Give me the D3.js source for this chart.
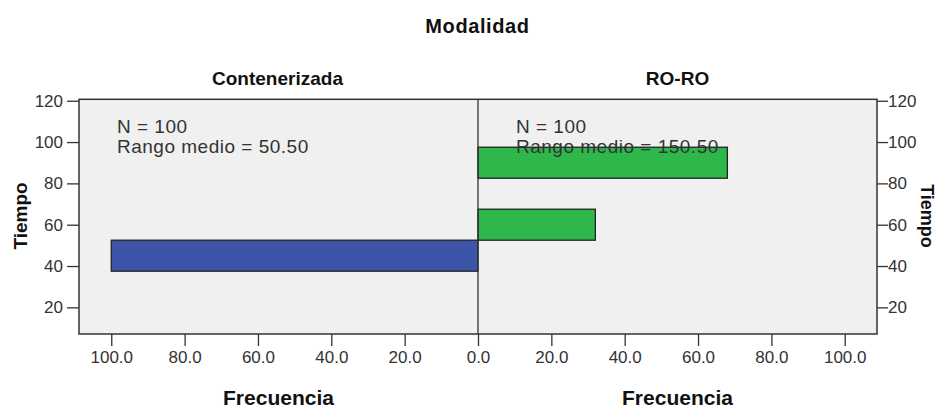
<!DOCTYPE html>
<html><head><meta charset="utf-8">
<script src="https://cdn.jsdelivr.net/npm/d3@7"></script>
<style>body{margin:0;background:#fff}svg text{font-family:"Liberation Sans",Arial,sans-serif}</style>
</head><body><svg id="c" width="938" height="408"></svg>
<script>
// Data
const binCenters = [45, 60, 75, 90];
const binWidth = 15;
const groups = ["Contenerizada", "RO-RO"];
const freqContenerizada = [100, 0, 0, 0];
const freqRORO = [0, 32, 0, 68];
const annotN = ["N = 100", "N = 100"];
const annotRango = ["Rango medio = 50.50", "Rango medio = 150.50"];
const yTicks = [20, 40, 60, 80, 100, 120];
const xTicks = [0, 20, 40, 60, 80, 100];

const svg = d3.select("#c");
const L = 79, R = 877, T = 99.3, B = 334, C = 478;
const y = d3.scaleLinear().domain([7.1, 120.7]).range([B, T]);
const xL = d3.scaleLinear().domain([0, 108.8]).range([C, L]);
const xR = d3.scaleLinear().domain([0, 108.8]).range([C, R]);

svg.append("rect").attr("x", L).attr("y", T).attr("width", R - L).attr("height", B - T)
  .attr("fill", "#f0f0f0");

// bars
const barsL = binCenters.map((c, i) => ({c, v: freqContenerizada[i]})).filter(d => d.v > 0);
const barsR = binCenters.map((c, i) => ({c, v: freqRORO[i]})).filter(d => d.v > 0);
svg.selectAll(".bl").data(barsL).join("rect")
  .attr("x", d => xL(d.v)).attr("width", d => xL(0) - xL(d.v))
  .attr("y", d => y(d.c + binWidth / 2)).attr("height", d => y(d.c - binWidth / 2) - y(d.c + binWidth / 2))
  .attr("fill", "#3c55a8").attr("stroke", "#222").attr("stroke-width", 1.3);
svg.selectAll(".br").data(barsR).join("rect")
  .attr("x", xR(0)).attr("width", d => xR(d.v) - xR(0))
  .attr("y", d => y(d.c + binWidth / 2)).attr("height", d => y(d.c - binWidth / 2) - y(d.c + binWidth / 2))
  .attr("fill", "#2eb84b").attr("stroke", "#222").attr("stroke-width", 1.3);

// frame and center line
svg.append("rect").attr("x", L).attr("y", T).attr("width", R - L).attr("height", B - T)
  .attr("fill", "none").attr("stroke", "#333").attr("stroke-width", 1.5);
svg.append("line").attr("x1", C).attr("x2", C).attr("y1", T).attr("y2", B)
  .attr("stroke", "#333").attr("stroke-width", 1.3);

function styleAxis(g) {
  g.select(".domain").remove();
  g.selectAll(".tick line").attr("stroke", "#333").attr("stroke-width", 1.3);
  g.selectAll(".tick text").attr("fill", "#333").style("font-size", "17px")
    .style("font-family", '"Liberation Sans",Arial,sans-serif');
}
// y axes
svg.append("g").attr("transform", `translate(${L},0)`)
  .call(d3.axisLeft(y).tickValues(yTicks).tickSize(12).tickPadding(4).tickFormat(d3.format("d")))
  .call(styleAxis);
svg.append("g").attr("transform", `translate(${R},0)`)
  .call(d3.axisRight(y).tickValues(yTicks).tickSize(11).tickPadding(0).tickFormat(d3.format("d")))
  .call(styleAxis);
// x axes
svg.append("g").attr("transform", `translate(0,${B})`)
  .call(d3.axisBottom(xL).tickValues(xTicks.filter(d => d > 0)).tickSize(12).tickPadding(5).tickFormat(d3.format(".1f")))
  .call(styleAxis);
svg.append("g").attr("transform", `translate(0,${B})`)
  .call(d3.axisBottom(xR).tickValues(xTicks).tickSize(12).tickPadding(5).tickFormat(d3.format(".1f")))
  .call(styleAxis);

// titles
const bold = (t, x, yy, size) => svg.append("text").attr("x", x).attr("y", yy)
  .attr("text-anchor", "middle").attr("font-weight", "bold").style("font-size", size + "px")
  .attr("fill", "#111").text(t);
bold("Modalidad", 477.5, 33, 20).attr("letter-spacing", 0.6);
bold(groups[0], (L + C) / 2 - 1, 85, 19);
bold(groups[1], (C + R) / 2, 85, 19);
bold("Frecuencia", (L + C) / 2, 405, 21);
bold("Frecuencia", (C + R) / 2, 405, 21);
svg.append("text").attr("transform", "translate(27,216) rotate(-90)").attr("text-anchor", "middle")
  .attr("font-weight", "bold").style("font-size", "19px").attr("fill", "#111").text("Tiempo");
svg.append("text").attr("transform", "translate(921,216) rotate(90)").attr("text-anchor", "middle")
  .attr("font-weight", "bold").style("font-size", "18px").attr("fill", "#111").text("Tiempo");

// annotations
const ax = [117, 516];
ax.forEach((x, i) => {
  svg.append("text").attr("x", x).attr("y", 133).style("font-size", "19px").attr("fill", "#333")
    .attr("letter-spacing", 0.5).text(annotN[i]);
  svg.append("text").attr("x", x).attr("y", 153).style("font-size", "19px").attr("fill", "#333")
    .attr("letter-spacing", 0.5).text(annotRango[i]);
});
</script></body></html>
